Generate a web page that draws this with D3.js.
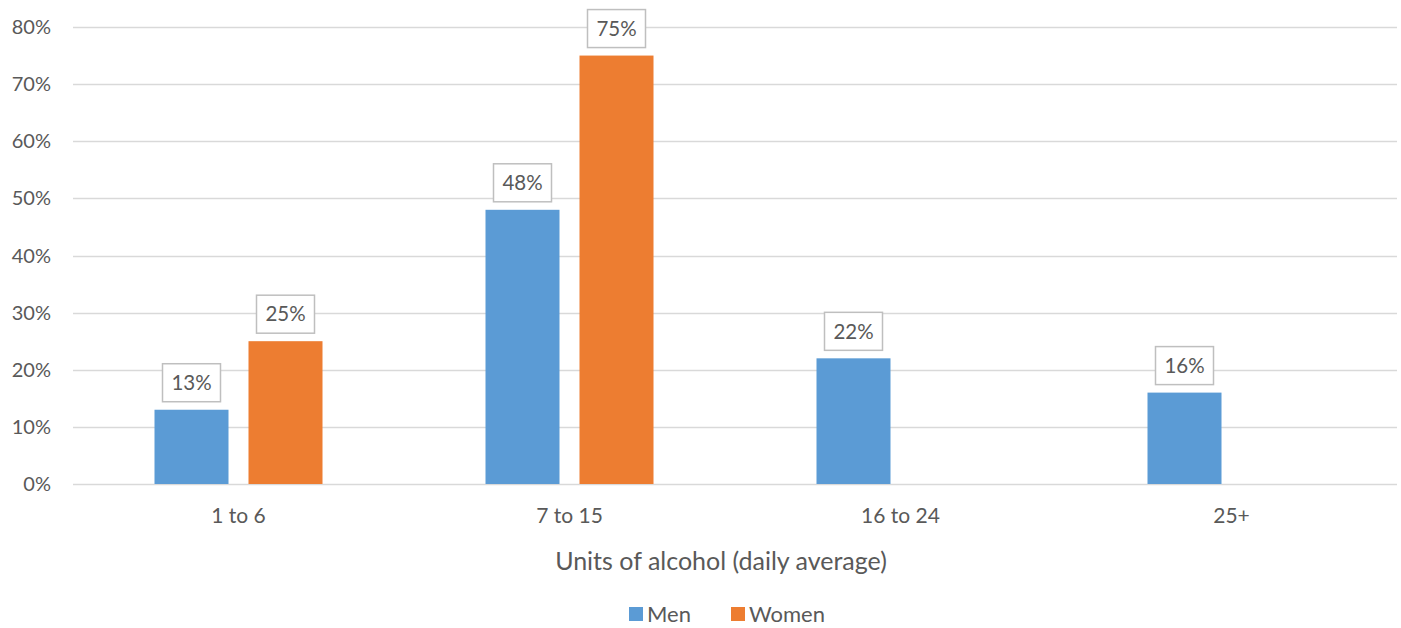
<!DOCTYPE html>
<html>
<head>
<meta charset="utf-8">
<script src="https://cdn.jsdelivr.net/npm/d3@7"></script>
<style>
  body { margin: 0; background: #fff; }
  svg { display: block; font-family: Lato, "Open Sans", sans-serif; }
</style>
</head>
<body>
<script>
const categories = ["1 to 6", "7 to 15", "16 to 24", "25+"];
const seriesNames = ["Men", "Women"];
const men = [13, 48, 22, 16];
const women = [25, 75, null, null];
const yTicks = [0, 10, 20, 30, 40, 50, 60, 70, 80];
const colors = { Men: "#5B9BD5", Women: "#ED7D31" };

const width = 1401, height = 628;
const margin = { top: 27, right: 4, bottom: 144, left: 73 };

const svg = d3.select("body").append("svg")
    .attr("width", width)
    .attr("height", height);

const x0 = d3.scaleBand()
    .domain(categories)
    .range([margin.left, width - margin.right]);

const x1 = d3.scaleBand()
    .domain(seriesNames)
    .range([x0.bandwidth() / 2 - 84, x0.bandwidth() / 2 + 84])
    .paddingInner(0.2128);

const y = d3.scaleLinear()
    .domain([0, 80])
    .range([height - margin.bottom, margin.top]);

// gridlines
svg.append("g")
    .selectAll("line")
    .data(yTicks)
    .join("line")
    .attr("x1", margin.left)
    .attr("x2", width - margin.right)
    .attr("y1", d => Math.round(y(d)) + 0.5)
    .attr("y2", d => Math.round(y(d)) + 0.5)
    .attr("stroke", "#d9d9d9")
    .attr("stroke-width", 1.3);

// y tick labels
svg.append("g")
    .attr("font-size", 20)
    .attr("fill", "#595959")
    .attr("text-anchor", "end")
    .selectAll("text")
    .data(yTicks)
    .join("text")
    .attr("x", 51)
    .attr("y", d => y(d))
    .attr("dy", "0.35em")
    .text(d => d + "%");

const rows = categories.map((c, i) => ({
    cat: c,
    values: [{ key: "Men", v: men[i] }, { key: "Women", v: women[i] }].filter(d => d.v != null)
}));

const groups = svg.append("g")
    .selectAll("g")
    .data(rows)
    .join("g")
    .attr("transform", d => `translate(${x0(d.cat)},0)`);

groups.selectAll("rect")
    .data(d => d.values)
    .join("rect")
    .attr("x", d => x1(d.key))
    .attr("width", x1.bandwidth())
    .attr("y", d => y(d.v))
    .attr("height", d => y(0) - y(d.v))
    .attr("fill", d => colors[d.key]);

// data labels with boxes
const labels = groups.selectAll("g.lbl")
    .data(d => d.values)
    .join("g")
    .attr("class", "lbl")
    .attr("transform", d => `translate(${x1(d.key) + x1.bandwidth() / 2},${y(d.v) - 27})`);

labels.append("rect")
    .attr("x", -29)
    .attr("y", -19)
    .attr("width", 58)
    .attr("height", 38)
    .attr("fill", "#fff")
    .attr("stroke", "#bfbfbf")
    .attr("stroke-width", 1.5);

labels.append("text")
    .attr("text-anchor", "middle")
    .attr("dy", "0.35em")
    .attr("font-size", 20.5)
    .attr("fill", "#595959")
    .text(d => d.v + "%");

// category labels
svg.append("g")
    .attr("font-size", 21)
    .attr("fill", "#595959")
    .attr("text-anchor", "middle")
    .selectAll("text")
    .data(categories)
    .join("text")
    .attr("x", d => x0(d) + x0.bandwidth() / 2)
    .attr("y", 516)
    .attr("dy", "0.35em")
    .text(d => d);

// axis title
svg.append("text")
    .attr("x", 721)
    .attr("y", 561)
    .attr("dy", "0.35em")
    .attr("text-anchor", "middle")
    .attr("font-size", 25)
    .attr("fill", "#595959")
    .text("Units of alcohol (daily average)");

// legend
const legendX = { Men: 629, Women: 731 };
const legend = svg.append("g")
    .selectAll("g")
    .data(seriesNames)
    .join("g")
    .attr("transform", d => `translate(${legendX[d]},607)`);

legend.append("rect")
    .attr("width", 14)
    .attr("height", 14)
    .attr("fill", d => colors[d]);

legend.append("text")
    .attr("x", 18)
    .attr("y", 7)
    .attr("dy", "0.35em")
    .attr("font-size", 22)
    .attr("fill", "#595959")
    .text(d => d);
</script>
</body>
</html>
